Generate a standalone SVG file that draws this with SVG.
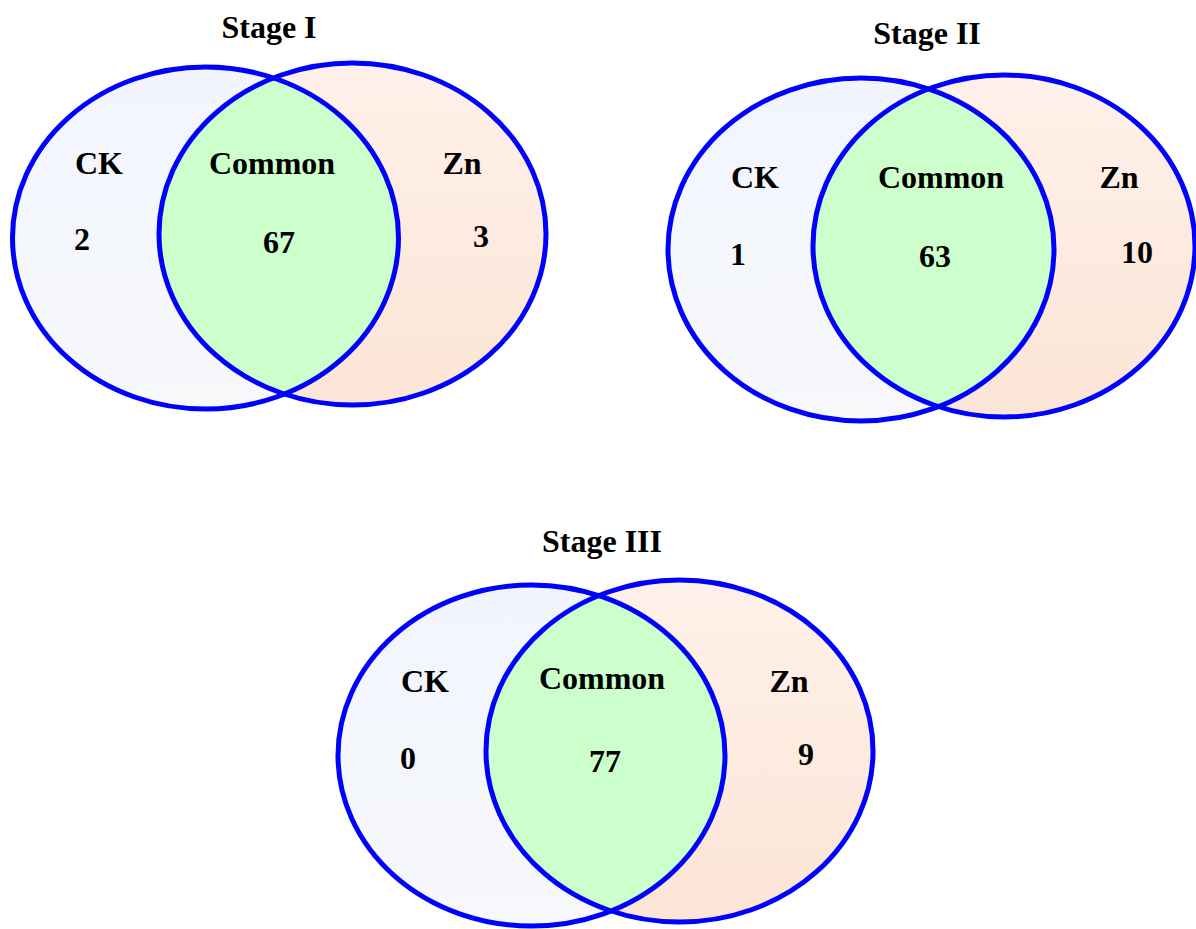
<svg xmlns="http://www.w3.org/2000/svg" width="1196" height="929" viewBox="0 0 1196 929">
<defs>
<linearGradient id="gBlue" x1="0" y1="0" x2="0" y2="1">
<stop offset="0" stop-color="#f2f5fe"/>
<stop offset="1" stop-color="#f6f8fa"/>
</linearGradient>
<linearGradient id="gPeach" x1="0" y1="0" x2="0" y2="1">
<stop offset="0" stop-color="#fff1ea"/>
<stop offset="1" stop-color="#fbe5d6"/>
</linearGradient>
<clipPath id="c1"><ellipse cx="352.5" cy="234" rx="193.5" ry="171"/></clipPath>
<clipPath id="c2"><ellipse cx="1004" cy="246" rx="191" ry="171"/></clipPath>
<clipPath id="c3"><ellipse cx="679.5" cy="751" rx="193.5" ry="171"/></clipPath>
</defs>
<style>
.l{fill:url(#gBlue)}
.r{fill:url(#gPeach)}
.g{fill:#ccffcc}
.s{fill:none;stroke:#0000ff;stroke-width:5}
text{font-family:"Liberation Serif","Times New Roman",serif;font-weight:bold;font-size:32px;fill:#000;text-anchor:middle}
</style>
<rect width="1196" height="929" fill="#ffffff"/>
<g id="venn-stage1">
<ellipse class="l" cx="205.5" cy="238" rx="193" ry="171"/>
<ellipse class="r" cx="352.5" cy="234" rx="193.5" ry="171"/>
<ellipse class="g" cx="205.5" cy="238" rx="193" ry="171" clip-path="url(#c1)"/>
<ellipse class="s" cx="205.5" cy="238" rx="193" ry="171"/>
<ellipse class="s" cx="352.5" cy="234" rx="193.5" ry="171"/>
<text x="269" y="38">Stage I</text>
<text x="99" y="174">CK</text>
<text x="272" y="174">Common</text>
<text x="462" y="174">Zn</text>
<text x="82" y="250">2</text>
<text x="279" y="253">67</text>
<text x="481" y="247">3</text>
</g>
<g id="venn-stage2">
<ellipse class="l" cx="861" cy="249.5" rx="193" ry="171.5"/>
<ellipse class="r" cx="1004" cy="246" rx="191" ry="171"/>
<ellipse class="g" cx="861" cy="249.5" rx="193" ry="171.5" clip-path="url(#c2)"/>
<ellipse class="s" cx="861" cy="249.5" rx="193" ry="171.5"/>
<ellipse class="s" cx="1004" cy="246" rx="191" ry="171"/>
<text x="927" y="44">Stage II</text>
<text x="755" y="188">CK</text>
<text x="941" y="188">Common</text>
<text x="1119" y="188">Zn</text>
<text x="738" y="265">1</text>
<text x="935" y="267">63</text>
<text x="1137" y="263">10</text>
</g>
<g id="venn-stage3">
<ellipse class="l" cx="531.5" cy="755.5" rx="193.5" ry="170.5"/>
<ellipse class="r" cx="679.5" cy="751" rx="193.5" ry="171"/>
<ellipse class="g" cx="531.5" cy="755.5" rx="193.5" ry="170.5" clip-path="url(#c3)"/>
<ellipse class="s" cx="531.5" cy="755.5" rx="193.5" ry="170.5"/>
<ellipse class="s" cx="679.5" cy="751" rx="193.5" ry="171"/>
<text x="602" y="552">Stage III</text>
<text x="425" y="692">CK</text>
<text x="602" y="689">Common</text>
<text x="789" y="692">Zn</text>
<text x="408" y="769">0</text>
<text x="605" y="772">77</text>
<text x="806" y="765">9</text>
</g>
</svg>
